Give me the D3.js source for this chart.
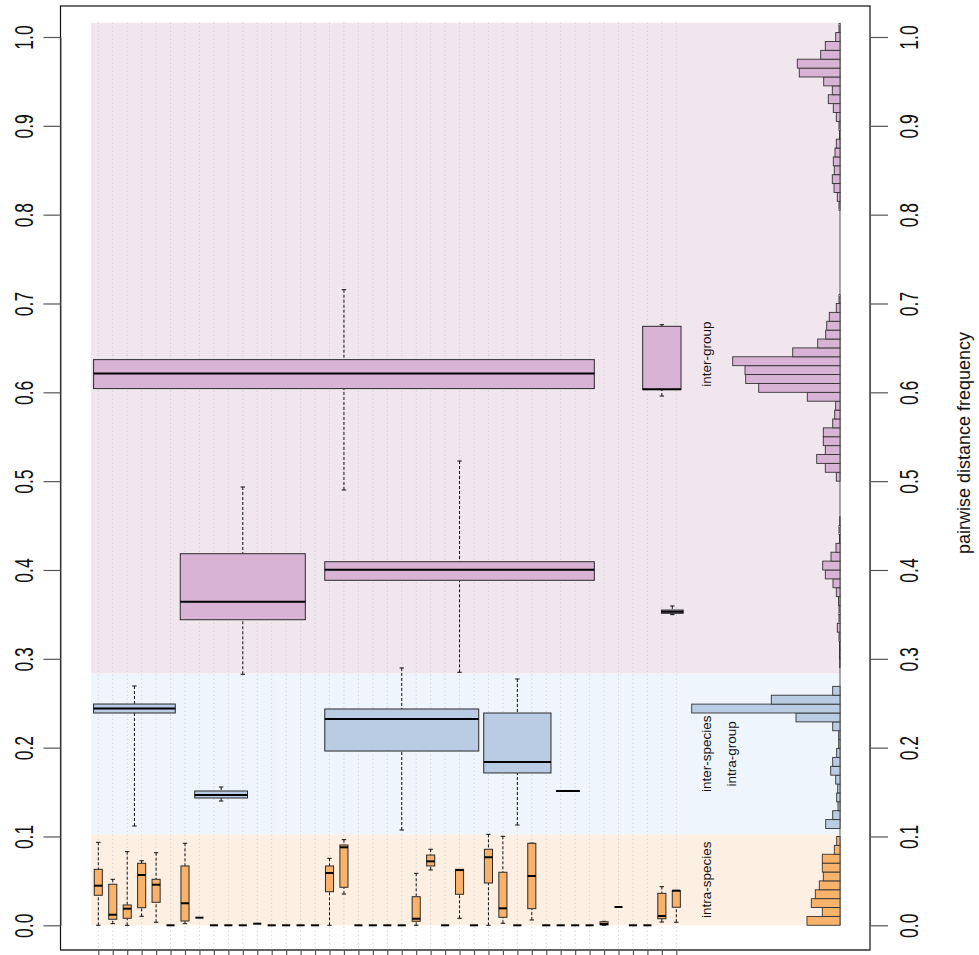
<!DOCTYPE html>
<html><head><meta charset="utf-8">
<script src="https://cdn.jsdelivr.net/npm/d3@7"></script>
<style>body{margin:0;background:#fff}svg text{font-family:"Liberation Sans",Arial,Helvetica,sans-serif}</style>
</head><body>
<svg id="chart" width="979" height="955"></svg>
<script>
// ---------------- data ----------------
const species = d3.range(1, 42);            // 41 species (unlabelled ticks)
const yTicks = [0, 0.1, 0.2, 0.3, 0.4, 0.5, 0.6, 0.7, 0.8, 0.9, 1.0];

// intra-species boxplots: [lowWhisker, q1, median, q3, highWhisker]
const intraSpecies = [
  [0, 0.0338, 0.0446, 0.0630, 0.0934],
  [0.0018, 0.0068, 0.0119, 0.0462, 0.0518],
  [0, 0.0079, 0.0187, 0.0229, 0.0829],
  [0.0101, 0.0198, 0.0566, 0.0698, 0.0727],
  [0.0034, 0.0259, 0.0457, 0.0518, 0.0817],
  [0, 0, 0, 0, 0],
  [0.0018, 0.0048, 0.0248, 0.0668, 0.0923],
  [0.0086, 0.0086, 0.0086, 0.0086, 0.0086],
  [0, 0, 0, 0, 0],
  [0, 0, 0, 0, 0],
  [0, 0, 0, 0, 0],
  [0.0018, 0.0018, 0.0018, 0.0018, 0.0018],
  [0, 0, 0, 0, 0],
  [0, 0, 0, 0, 0],
  [0, 0, 0, 0, 0],
  [0, 0, 0, 0, 0],
  [0, 0.0378, 0.0589, 0.0668, 0.0754],
  [0.0352, 0.0428, 0.0878, 0.0904, 0.0964],
  [0, 0, 0, 0, 0],
  [0, 0, 0, 0, 0],
  [0, 0, 0, 0, 0],
  [0, 0, 0, 0, 0],
  [0, 0.0045, 0.0074, 0.0322, 0.0585],
  [0.0623, 0.0668, 0.0720, 0.0791, 0.0856],
  [0, 0, 0, 0, 0],
  [0.0079, 0.0349, 0.0622, 0.0630, 0.0630],
  [0, 0, 0, 0, 0],
  [0, 0.0476, 0.0766, 0.0856, 0.1024],
  [0.0023, 0.0090, 0.0191, 0.0597, 0.1002],
  [0, 0, 0, 0, 0],
  [0.0060, 0.0187, 0.0555, 0.0923, 0.0925],
  [0, 0, 0, 0, 0],
  [0, 0, 0, 0, 0],
  [0, 0, 0, 0, 0],
  [0, 0, 0, 0, 0],
  [0, 0.0005, 0.0015, 0.0040, 0.0045],
  [0.0206, 0.0206, 0.0206, 0.0206, 0.0206],
  [0, 0, 0, 0, 0],
  [0, 0, 0, 0, 0],
  [0.0037, 0.0074, 0.0105, 0.0360, 0.0435],
  [0.0034, 0.0203, 0.0390, 0.0390, 0.0390]
];

// inter-species, intra-group boxplots (span of species, first..last)
const interSpeciesGroups = [[1, 6], [8, 11], [17, 27], [28, 32], [33, 34]];
const interSpeciesStats = [
  [0.1118, 0.2390, 0.2441, 0.2491, 0.2694],
  [0.1399, 0.1433, 0.1467, 0.1512, 0.1557],
  [0.1073, 0.1962, 0.2322, 0.2435, 0.2897],
  [0.1129, 0.1715, 0.1838, 0.2390, 0.2773],
  [0.1512, 0.1512, 0.1512, 0.1512, 0.1512]
];

// inter-group boxplots
const interGroupGroups = [[1, 35], [7, 15], [17, 35], [39, 41], [40.3, 41.15]];
const interGroupStats = [
  [0.4901, 0.6042, 0.6211, 0.6368, 0.7155],
  [0.2826, 0.3440, 0.3643, 0.4183, 0.4934],
  [0.2848, 0.3884, 0.4003, 0.4093, 0.5227],
  [0.5958, 0.6031, 0.6034, 0.6743, 0.6761],
  [0.3497, 0.3512, 0.3530, 0.3549, 0.3595]
];

// histograms of pairwise distances (bin width 0.01)
const binWidth = 0.01;
const intraHistStart = 0.0;
const intraHist = [33, 17.7, 28.7, 24.7, 20.7, 16.7, 17.7, 17.7, 5.7, 3.3];
const interSpeciesHistStart = 0.109;
const interSpeciesHist = [14.3, 7.3, 2, 3.3, 2.3, 4.3, 9.3, 7.3, 3.3, 1.3, 1.3, 7.3, 44, 148.3, 68.7, 7.3];
const interGroupHistLowStart = 0.29;
const interGroupHistLow = [0.3, 0.5, 0.5, 1, 2.7, 1, 1, 1.5, 3.7, 7, 14.7, 17.3, 9, 4, 0.5, 1, 0.3, 0, 0, 0, 0,
  3.7, 14.7, 23.3, 14.7, 16.7, 16.7, 7.3, 5.3, 4.3, 32.7, 81.3, 94.3, 95, 107.3, 47.3, 22.3, 14.3, 13.3, 10.7, 3.7, 1];
const interGroupHistHighStart = 0.805;
const interGroupHistHigh = [1, 2.7, 6, 7.7, 5.7, 6.7, 5, 3.7, 0.5, 1, 3.7, 6.7, 11.7, 7.7, 16.3, 40.7, 42.7, 19.3, 14.7, 4.3, 1];

// comparison classes (background bands)
const regionBounds = [0, 0.1024, 0.2837, 1.0161];
const regionLabels = [["intra-species"], ["inter-species", "intra-group"], ["inter-group"]];
const regionLabelAt = [0.0512, 0.193, 0.643];
const yLabel = "pairwise distance frequency";

// ---------------- styles ----------------
const fills = ["#F9B26A", "#B9CCE4", "#D9B3D5"];
const bgs = ["#FDF0E3", "#EEF5FD", "#F2E6EE"];

// ---------------- scales ----------------
const svg = d3.select("#chart");
const y = d3.scaleLinear().domain([0, 1]).range([925.3, 37]);
const x = d3.scaleLinear().domain([1, 41]).range([98.3, 676.3]);
const freq = d3.scaleLinear().domain([0, 150]).range([840, 690]);
const frame = {l: 60.5, r: 870, t: 6, b: 950};

// backgrounds
svg.append("g").selectAll("rect").data(bgs).join("rect")
  .attr("x", x(0.5)).attr("width", freq(0) - x(0.5))
  .attr("y", (d, i) => y(regionBounds[i + 1]))
  .attr("height", (d, i) => y(regionBounds[i]) - y(regionBounds[i + 1]))
  .attr("fill", d => d);

// dotted species lines
svg.append("g").selectAll("line").data(species).join("line")
  .attr("x1", d => x(d)).attr("x2", d => x(d))
  .attr("y1", y(regionBounds[3])).attr("y2", frame.b)
  .attr("stroke", "#c4c4c4").attr("stroke-width", 1).attr("stroke-dasharray", "1,3");

// box drawing helper
function drawBox(g, left, right, center, s, fill) {
  const lw = 1;
  const dash = "3,2";
  if (s[1] > s[0]) {
    g.append("line").attr("x1", center).attr("x2", center).attr("y1", y(s[0])).attr("y2", y(s[1]))
      .attr("stroke", "#111").attr("stroke-width", lw).attr("stroke-dasharray", dash);
    g.append("line").attr("x1", center - 2.2).attr("x2", center + 2.2).attr("y1", y(s[0])).attr("y2", y(s[0]))
      .attr("stroke", "#111").attr("stroke-width", lw);
  }
  if (s[4] > s[3]) {
    g.append("line").attr("x1", center).attr("x2", center).attr("y1", y(s[4])).attr("y2", y(s[3]))
      .attr("stroke", "#111").attr("stroke-width", lw).attr("stroke-dasharray", dash);
    g.append("line").attr("x1", center - 2.2).attr("x2", center + 2.2).attr("y1", y(s[4])).attr("y2", y(s[4]))
      .attr("stroke", "#111").attr("stroke-width", lw);
  }
  g.append("rect").attr("x", left).attr("width", right - left)
    .attr("y", y(s[3])).attr("height", Math.max(0, y(s[1]) - y(s[3])))
    .attr("fill", fill).attr("stroke", "#2a2a2a").attr("stroke-width", 1);
  g.append("line").attr("x1", left).attr("x2", right).attr("y1", y(s[2])).attr("y2", y(s[2]))
    .attr("stroke", "#000").attr("stroke-width", 2);
}

const inset = 2.5;
const gBoxes = svg.append("g");
interGroupGroups.forEach((gr, i) => {
  drawBox(gBoxes, x(gr[0] - 0.5) + inset, x(gr[1] + 0.5) - inset, x((gr[0] + gr[1]) / 2), interGroupStats[i], fills[2]);
});
interSpeciesGroups.forEach((gr, i) => {
  drawBox(gBoxes, x(gr[0] - 0.5) + inset, x(gr[1] + 0.5) - inset, x((gr[0] + gr[1]) / 2), interSpeciesStats[i], fills[1]);
});
const halfW = 0.28;
intraSpecies.forEach((s, i) => {
  const c = species[i];
  drawBox(gBoxes, x(c - halfW), x(c + halfW), x(c), s, fills[0]);
});

// histograms
const gHist = svg.append("g");
function drawHist(start, vals, fill) {
  gHist.append("g").selectAll("rect").data(vals.map((v, i) => ({v, lo: start + i * binWidth})).filter(d => d.v > 0))
    .join("rect")
    .attr("x", d => freq(d.v)).attr("width", d => freq(0) - freq(d.v))
    .attr("y", d => y(d.lo + binWidth)).attr("height", d => y(d.lo) - y(d.lo + binWidth))
    .attr("fill", fill).attr("stroke", "#333").attr("stroke-width", 0.9);
}
gHist.append("line").attr("x1", freq(0)).attr("x2", freq(0))
  .attr("y1", y(regionBounds[3])).attr("y2", y(0)).attr("stroke", "#555").attr("stroke-width", 1);
drawHist(intraHistStart, intraHist, fills[0]);
drawHist(interSpeciesHistStart, interSpeciesHist, fills[1]);
drawHist(interGroupHistLowStart, interGroupHistLow, fills[2]);
drawHist(interGroupHistHighStart, interGroupHistHigh, fills[2]);

// region labels
regionLabels.forEach((lines, i) => {
  const t = svg.append("text")
    .attr("transform", `translate(${711},${y(regionLabelAt[i])}) rotate(-90)`)
    .attr("text-anchor", "middle").attr("font-size", 13.5).attr("fill", "#111");
  lines.forEach((ln, j) => t.append("tspan").attr("x", 0).attr("dy", j === 0 ? 0 : 24.5).text(ln));
});

// frame
svg.append("rect").attr("x", frame.l).attr("y", frame.t)
  .attr("width", frame.r - frame.l).attr("height", frame.b - frame.t)
  .attr("fill", "none").attr("stroke", "#111").attr("stroke-width", 1.2);

// axes
const fmt = d3.format(".1f");
const left = svg.append("g").attr("transform", `translate(${frame.l},0)`)
  .call(d3.axisLeft(y).tickValues(yTicks).tickSize(17).tickSizeOuter(0).tickFormat(fmt));
const right = svg.append("g").attr("transform", `translate(${frame.r},0)`)
  .call(d3.axisRight(y).tickValues(yTicks).tickSize(18).tickSizeOuter(0).tickFormat(fmt));
const bottom = svg.append("g").attr("transform", `translate(0,${frame.b})`)
  .call(d3.axisBottom(x).tickValues(species).tickSize(8).tickSizeOuter(0).tickFormat(""));
[left, right, bottom].forEach(a => {
  a.select(".domain").attr("stroke", "#555");
  a.selectAll(".tick line").attr("stroke", "#555").attr("stroke-width", 1.2);
});
bottom.select(".domain").attr("d", `M${frame.l},0H${frame.r}`);
left.selectAll(".tick text")
  .attr("x", null).attr("dy", null).attr("text-anchor", "middle")
  .attr("transform", "translate(-27.5,0) rotate(-90) scale(0.7,1)")
  .attr("font-size", 25).attr("fill", "#111").attr("font-family", "Liberation Sans, Arial, sans-serif");
right.selectAll(".tick text")
  .attr("x", null).attr("dy", null).attr("text-anchor", "middle")
  .attr("transform", "translate(47.5,0) rotate(-90) scale(0.7,1)")
  .attr("font-size", 25).attr("fill", "#111").attr("font-family", "Liberation Sans, Arial, sans-serif");

// right-hand title
svg.append("text").attr("transform", `translate(969.5,${443}) rotate(-90)`)
  .attr("text-anchor", "middle").attr("font-size", 18).attr("fill", "#111").text(yLabel);
</script>
</body></html>
